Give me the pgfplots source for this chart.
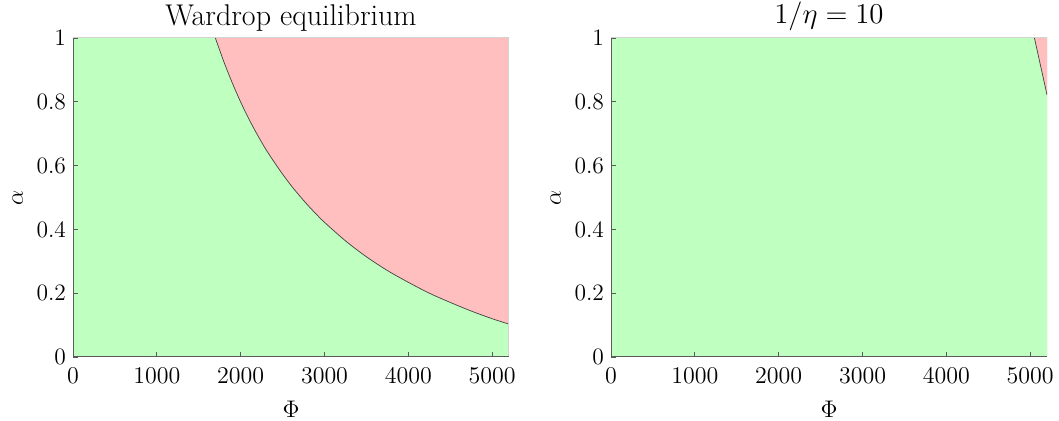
\documentclass[border=0pt]{standalone}
\usepackage{pgfplots}
\pgfplotsset{compat=1.18}
\definecolor{fgreen}{RGB}{191,255,191}
\definecolor{fred}{RGB}{255,191,191}
\definecolor{axgray}{RGB}{90,90,90}
\pgfplotsset{
  myax/.style={
    scale only axis, width=218pt, height=159.5pt,
    xmin=0, xmax=5200, ymin=0, ymax=1,
    xtick={0,1000,2000,3000,4000,5000},
    ytick={0,0.2,0.4,0.6,0.8,1},
    yticklabels={0,0.2,0.4,0.6,0.8,1},
    scaled x ticks=false,
    /pgf/number format/1000 sep={},
    axis x line*=bottom, axis y line*=left,
    axis line style={draw=axgray, line width=0.5pt},
    tick style={draw=axgray, line width=0.4pt},
    major tick length=2.5pt,
    tick align=inside,
    tick label style={font=\fontsize{11.75}{14}\selectfont},
    xticklabel style={yshift=-2pt},
    xlabel={$\Phi$}, ylabel={$\alpha$},
    xlabel style={yshift=-2pt},
    label style={font=\fontsize{13}{15}\selectfont},
    title style={font=\fontsize{15}{18}\selectfont, yshift=-6pt},
    axis on top,
    clip=true,
  }
}
\begin{document}
\begin{tikzpicture}
\useasboundingbox (0,0) rectangle (529.5pt,210.5pt);
\begin{axis}[myax, at={(36.5pt,32pt)}, anchor=south west, title={Wardrop equilibrium}]
\addplot[fill=fgreen, draw=none] coordinates {
(0,0) (0,1) (1698,1) (1800,0.925) (1900,0.859) (2000,0.799) (2100,0.745) (2200,0.696) (2300,0.651) (2400,0.611) (2500,0.573) (2600,0.538) (2700,0.506) (2800,0.476) (2900,0.448) (3000,0.422) (3250,0.364) (3500,0.314) (3750,0.271) (4000,0.234) (4250,0.200) (4500,0.171) (4750,0.144) (5000,0.120) (5200,0.103) (5200,0)
} -- cycle;
\addplot[fill=fred, draw=none] coordinates {
(1698,1) (1800,0.925) (1900,0.859) (2000,0.799) (2100,0.745) (2200,0.696) (2300,0.651) (2400,0.611) (2500,0.573) (2600,0.538) (2700,0.506) (2800,0.476) (2900,0.448) (3000,0.422) (3250,0.364) (3500,0.314) (3750,0.271) (4000,0.234) (4250,0.200) (4500,0.171) (4750,0.144) (5000,0.120) (5200,0.103) (5200,1)
} -- cycle;
\addplot[draw=black!75, line width=0.35pt, smooth] coordinates {
(1698,1) (1800,0.925) (1900,0.859) (2000,0.799) (2100,0.745) (2200,0.696) (2300,0.651) (2400,0.611) (2500,0.573) (2600,0.538) (2700,0.506) (2800,0.476) (2900,0.448) (3000,0.422) (3250,0.364) (3500,0.314) (3750,0.271) (4000,0.234) (4250,0.200) (4500,0.171) (4750,0.144) (5000,0.120) (5200,0.103)
};
\draw[gray!35, line width=0.5pt] (rel axis cs:0,1) -- (rel axis cs:1,1) -- (rel axis cs:1,0);
\end{axis}
\begin{axis}[myax, at={(305.5pt,32pt)}, anchor=south west, title={$1/\eta=10$}]
\addplot[fill=fgreen, draw=none] coordinates {
(0,0) (0,1) (5050,1) (5200,0.822) (5200,0)
} -- cycle;
\addplot[fill=fred, draw=none] coordinates {
(5050,1) (5200,1) (5200,0.822)
} -- cycle;
\addplot[draw=black!75, line width=0.35pt] coordinates {
(5050,1) (5200,0.822)
};
\draw[gray!35, line width=0.5pt] (rel axis cs:0,1) -- (rel axis cs:1,1) -- (rel axis cs:1,0);
\end{axis}
\end{tikzpicture}
\end{document}
